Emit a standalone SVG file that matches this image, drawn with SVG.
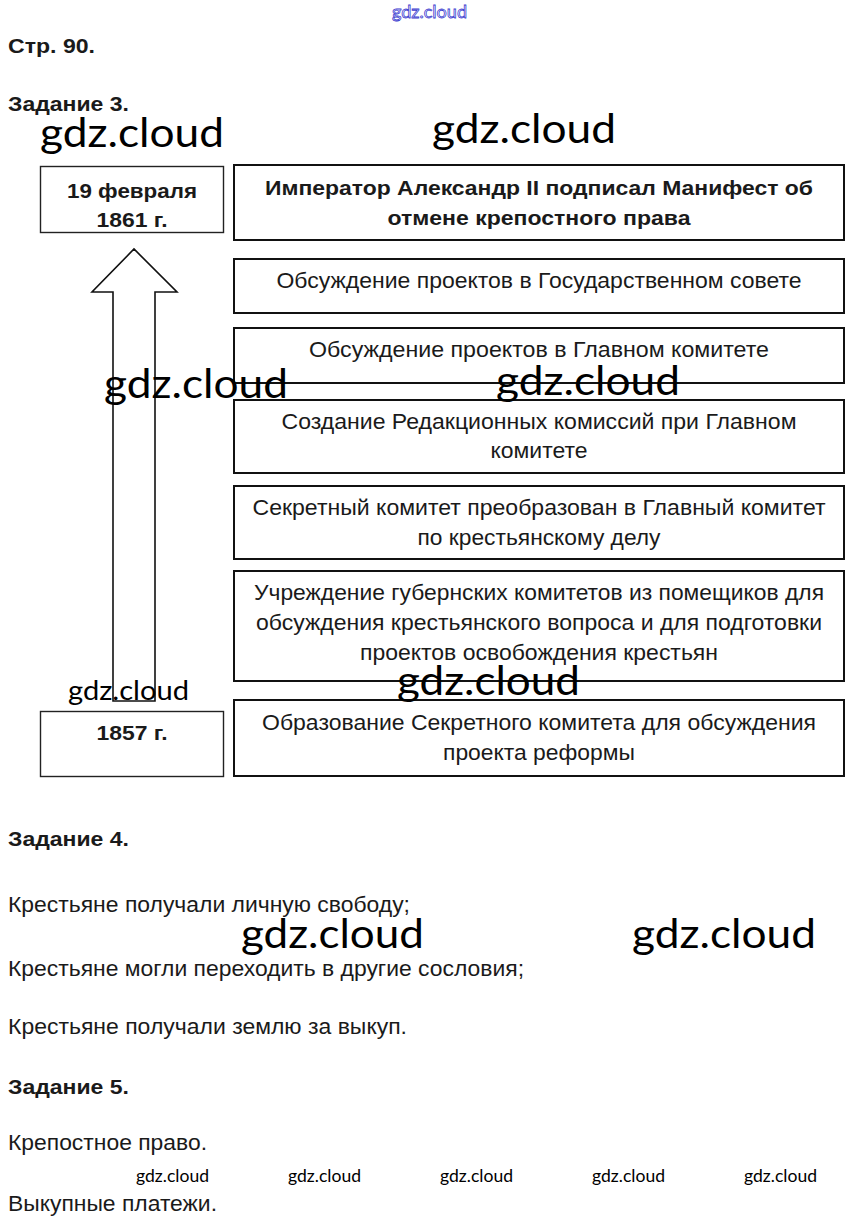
<svg xmlns="http://www.w3.org/2000/svg" width="859" height="1227" viewBox="0 0 859 1227">
<style>
.bg{fill:#ffffff}
.box{fill:#ffffff;stroke:#111;stroke-width:2}
.lbox{fill:#ffffff;stroke:#222;stroke-width:1.4}
.t{font-family:"Liberation Sans",Arial,sans-serif;font-size:22.5px;fill:#1a1a1a}
.tc{font-family:"Liberation Sans",Arial,sans-serif;font-size:22.5px;fill:#1a1a1a;text-anchor:middle}
.b{font-family:"Liberation Sans",Arial,sans-serif;font-size:20px;font-weight:bold;fill:#1a1a1a}
.bc{font-family:"Liberation Sans",Arial,sans-serif;font-size:20.5px;font-weight:bold;fill:#1a1a1a;text-anchor:middle}
.arrow{fill:#ffffff;stroke:#111;stroke-width:1.6;stroke-linejoin:miter}
.wm{font-family:Lato,"Open Sans",sans-serif;fill:#000}
.wmtop{font-family:Lato,"Open Sans",sans-serif;font-size:18px;fill:#ffffff;stroke:#3c3cd0;stroke-width:0.8}
</style>
<rect class="bg" x="0" y="0" width="859" height="1227"/>

<g id="headers">
<text class="b" x="8" y="53" textLength="87" lengthAdjust="spacingAndGlyphs">Стр. 90.</text>
<text class="b" x="8" y="111" textLength="121" lengthAdjust="spacingAndGlyphs">Задание 3.</text>
</g>

<g id="connectors">
<polygon class="arrow" points="113,701 113,292 92,292 134,249 177,292 155,292 155,701"/>
</g>

<g id="node-1861">
<rect class="lbox" x="40.5" y="166.5" width="183" height="66"/>
<text class="bc" x="132" y="198" textLength="130" lengthAdjust="spacingAndGlyphs">19 февраля</text>
<text class="bc" x="132" y="227" textLength="71" lengthAdjust="spacingAndGlyphs">1861 г.</text>
</g>

<g id="node-1857">
<rect class="lbox" x="40.5" y="711.5" width="183" height="65"/>
<text class="bc" x="132" y="740" textLength="71" lengthAdjust="spacingAndGlyphs">1857 г.</text>
</g>

<g id="node-manifest">
<rect class="box" x="234" y="165" width="610" height="75"/>
<text class="bc" x="539" y="195" textLength="548" lengthAdjust="spacingAndGlyphs">Император Александр II подписал Манифест об</text>
<text class="bc" x="539" y="225" textLength="303" lengthAdjust="spacingAndGlyphs">отмене крепостного права</text>
</g>

<g id="node-gossovet">
<rect class="box" x="234" y="259" width="610" height="54"/>
<text class="tc" x="539" y="288" textLength="525" lengthAdjust="spacingAndGlyphs">Обсуждение проектов в Государственном совете</text>
</g>

<g id="node-glavkom">
<rect class="box" x="234" y="328" width="610" height="55"/>
<text class="tc" x="539" y="357" textLength="460" lengthAdjust="spacingAndGlyphs">Обсуждение проектов в Главном комитете</text>
</g>

<g id="node-redkom">
<rect class="box" x="234" y="400" width="610" height="73"/>
<text class="tc" x="539" y="429" textLength="515" lengthAdjust="spacingAndGlyphs">Создание Редакционных комиссий при Главном</text>
<text class="tc" x="539" y="458" textLength="97" lengthAdjust="spacingAndGlyphs">комитете</text>
</g>

<g id="node-preobraz">
<rect class="box" x="234" y="486" width="610" height="73"/>
<text class="tc" x="539" y="515" textLength="573" lengthAdjust="spacingAndGlyphs">Секретный комитет преобразован в Главный комитет</text>
<text class="tc" x="539" y="545" textLength="243" lengthAdjust="spacingAndGlyphs">по крестьянскому делу</text>
</g>

<g id="node-gubkom">
<rect class="box" x="234" y="571" width="610" height="110"/>
<text class="tc" x="539" y="600" textLength="570" lengthAdjust="spacingAndGlyphs">Учреждение губернских комитетов из помещиков для</text>
<text class="tc" x="539" y="630" textLength="566" lengthAdjust="spacingAndGlyphs">обсуждения крестьянского вопроса и для подготовки</text>
<text class="tc" x="539" y="660" textLength="358" lengthAdjust="spacingAndGlyphs">проектов освобождения крестьян</text>
</g>

<g id="node-sekretkom">
<rect class="box" x="234" y="700" width="610" height="76"/>
<text class="tc" x="539" y="730" textLength="554" lengthAdjust="spacingAndGlyphs">Образование Секретного комитета для обсуждения</text>
<text class="tc" x="539" y="760" textLength="192" lengthAdjust="spacingAndGlyphs">проекта реформы</text>
</g>

<g id="task4">
<text class="b" x="8" y="846" textLength="121" lengthAdjust="spacingAndGlyphs">Задание 4.</text>
<text class="t" x="8" y="912" textLength="402" lengthAdjust="spacingAndGlyphs">Крестьяне получали личную свободу;</text>
<text class="t" x="8" y="976" textLength="516" lengthAdjust="spacingAndGlyphs">Крестьяне могли переходить в другие сословия;</text>
<text class="t" x="8" y="1034" textLength="399" lengthAdjust="spacingAndGlyphs">Крестьяне получали землю за выкуп.</text>
</g>

<g id="task5">
<text class="b" x="8" y="1094" textLength="121" lengthAdjust="spacingAndGlyphs">Задание 5.</text>
<text class="t" x="8" y="1150" textLength="199" lengthAdjust="spacingAndGlyphs">Крепостное право.</text>
<text class="t" x="8" y="1211" textLength="209" lengthAdjust="spacingAndGlyphs">Выкупные платежи.</text>
</g>

<g id="watermarks">
<text class="wmtop" x="392" y="18" textLength="75" lengthAdjust="spacingAndGlyphs">gdz.cloud</text>
<text class="wm" x="40" y="147" font-size="41" textLength="184" lengthAdjust="spacingAndGlyphs">gdz.cloud</text>
<text class="wm" x="432" y="143" font-size="41" textLength="184" lengthAdjust="spacingAndGlyphs">gdz.cloud</text>
<text class="wm" x="104" y="398" font-size="41" textLength="184" lengthAdjust="spacingAndGlyphs">gdz.cloud</text>
<text class="wm" x="496" y="395" font-size="41" textLength="184" lengthAdjust="spacingAndGlyphs">gdz.cloud</text>
<text class="wm" x="68" y="700" font-size="27" textLength="121" lengthAdjust="spacingAndGlyphs">gdz.cloud</text>
<text class="wm" x="397" y="695" font-size="41" textLength="183" lengthAdjust="spacingAndGlyphs">gdz.cloud</text>
<text class="wm" x="241" y="948" font-size="41" textLength="183" lengthAdjust="spacingAndGlyphs">gdz.cloud</text>
<text class="wm" x="632" y="948" font-size="41" textLength="184" lengthAdjust="spacingAndGlyphs">gdz.cloud</text>
<text class="wm" x="136" y="1182" font-size="18" textLength="73" lengthAdjust="spacingAndGlyphs">gdz.cloud</text>
<text class="wm" x="288" y="1182" font-size="18" textLength="73" lengthAdjust="spacingAndGlyphs">gdz.cloud</text>
<text class="wm" x="440" y="1182" font-size="18" textLength="73" lengthAdjust="spacingAndGlyphs">gdz.cloud</text>
<text class="wm" x="592" y="1182" font-size="18" textLength="73" lengthAdjust="spacingAndGlyphs">gdz.cloud</text>
<text class="wm" x="744" y="1182" font-size="18" textLength="73" lengthAdjust="spacingAndGlyphs">gdz.cloud</text>
</g>
</svg>
